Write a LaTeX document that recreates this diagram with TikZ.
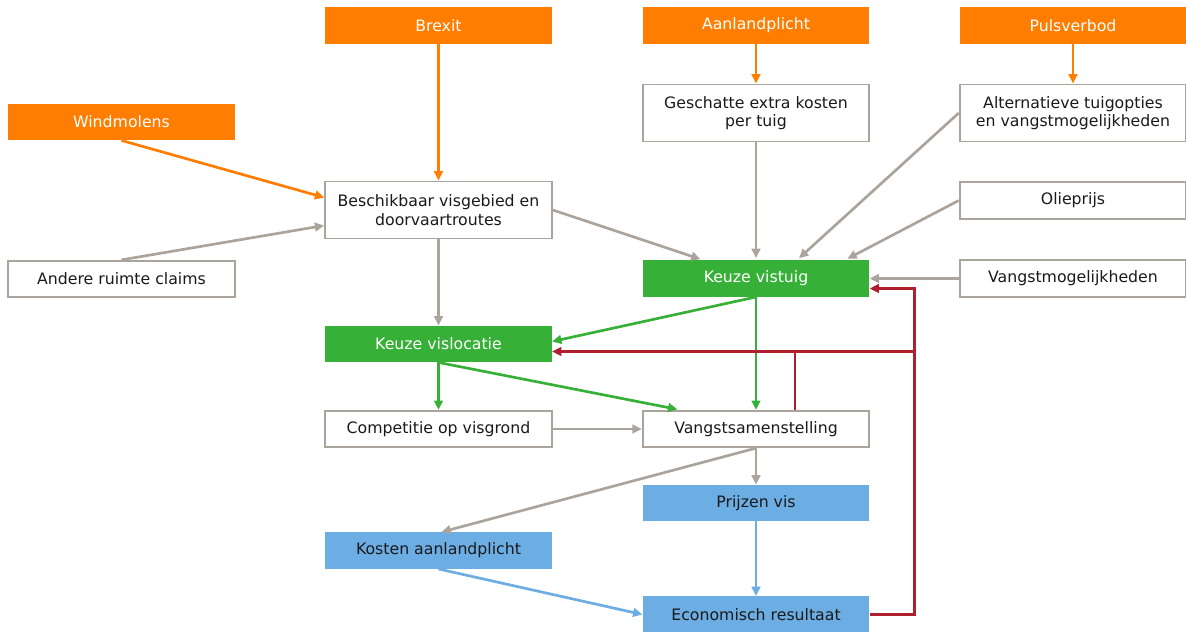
\documentclass[tikz,border=0pt]{standalone}
\usepackage{fontspec}
\setmainfont{DejaVu Sans}
\usetikzlibrary{arrows.meta,calc}
\definecolor{orng}{HTML}{FF7D00}
\definecolor{grn}{HTML}{37B037}
\definecolor{blu}{HTML}{6CADE4}
\definecolor{gry}{HTML}{ABA49C}
\definecolor{rd}{HTML}{B01F2E}
\definecolor{txt}{HTML}{1A1A1A}
\begin{document}
\begin{tikzpicture}[x=0.75pt,y=-0.75pt,
  base/.style={minimum width=170pt,minimum height=27.3pt,inner sep=0pt,align=center,
    font=\fontsize{11.8}{14}\selectfont},
  tall/.style={minimum height=42.8pt},
  obox/.style={base,fill=orng,text=white},
  gbox/.style={base,fill=grn,text=white},
  bbox/.style={base,fill=blu,text=txt},
  wbox/.style={base,draw=gry,line width=1.4pt,fill=white,text=txt},
  arr/.style={line width=2pt,-{Triangle[length=7pt,width=6.5pt]}},
  oarr/.style={arr,draw=orng},
  garr/.style={arr,draw=gry},
  grarr/.style={arr,draw=grn},
  barr/.style={arr,draw=blu},
  rarr/.style={arr,draw=rd},
  rline/.style={line width=2pt,draw=rd}]
\useasboundingbox (0,0) rectangle (1186,632);
% nodes
\node[obox] (brexit) at (438.5,25.5) {Brexit};
\node[obox] (aanl) at (756,25.5) {Aanlandplicht};
\node[obox] (puls) at (1073,25.5) {Pulsverbod};
\node[obox] (wind) at (121.5,122) {Windmolens};
\node[wbox,tall] (gesch) at (756,113) {Geschatte extra kosten\\per tuig};
\node[wbox,tall] (alt) at (1073,113) {Alternatieve tuigopties\\en vangstmogelijkheden};
\node[wbox,tall] (besch) at (438.5,210) {Beschikbaar visgebied en\\doorvaartroutes};
\node[wbox] (olie) at (1073,200.5) {Olieprijs};
\node[wbox] (andere) at (121.5,279) {Andere ruimte claims};
\node[gbox] (kvt) at (756,278.5) {Keuze vistuig};
\node[wbox] (vm) at (1073,278.5) {Vangstmogelijkheden};
\node[gbox] (kvl) at (438.5,344) {Keuze vislocatie};
\node[wbox] (comp) at (438.5,429) {Competitie op visgrond};
\node[wbox] (vs) at (756,429) {Vangstsamenstelling};
\node[bbox] (prijs) at (756,503) {Prijzen vis};
\node[bbox] (kost) at (438.5,550.5) {Kosten aanlandplicht};
\node[bbox] (econ) at (756,614.5) {Economisch resultaat};
% orange
\draw[oarr] (brexit) -- (besch);
\draw[oarr] (aanl) -- (gesch);
\draw[oarr] (puls) -- (alt);
\draw[oarr] (wind.south) -- ($(besch.west)+(0,-12.5)$);
% gray
\draw[garr] (andere.north) -- ($(besch.west)+(0,15.5)$);
\draw[garr,shorten >=2pt] (besch.east) -- ($(kvt.north)+(-53,0)$);
\draw[garr,shorten >=1.5pt] (gesch) -- (kvt);
\draw[garr,shorten >=2pt] (alt.west) -- ($(kvt.north)+(41,0)$);
\draw[garr,shorten >=2pt] (olie.west) -- ($(kvt.north)+(89,0)$);
\draw[garr] (vm.west) -- (kvt.east);
\draw[garr] (besch) -- (kvl);
\draw[garr] (comp) -- (vs);
\draw[garr] (vs) -- (prijs);
\draw[garr] (vs.south) -- ($(kost.north)+(3,0)$);
% green
\draw[grarr] (kvt.south) -- ($(kvl.east)+(0,-2.5)$);
\draw[grarr] (kvt) -- (vs);
\draw[grarr] (kvl) -- (comp);
\draw[grarr,shorten >=2pt] (kvl.south) -- ($(vs.north)+(-76,0)$);
% blue
\draw[barr] (prijs) -- (econ);
\draw[barr] (kost.south) -- (econ.west);
% red feedback
\coordinate (rtop) at ($(kvt.east)+(45,10)$);
\coordinate (rj) at ($(kvt.east)+(45,73)$);
\coordinate (vsr) at ($(vs.north)+(39,0)$);
\draw[rline] (vsr) -- (vsr |- rj);
\draw[rarr] (rj) -- (kvl.east |- rj);
\draw[rarr] (econ.east) -| (rtop) -- (kvt.east |- rtop);
\end{tikzpicture}
\end{document}
